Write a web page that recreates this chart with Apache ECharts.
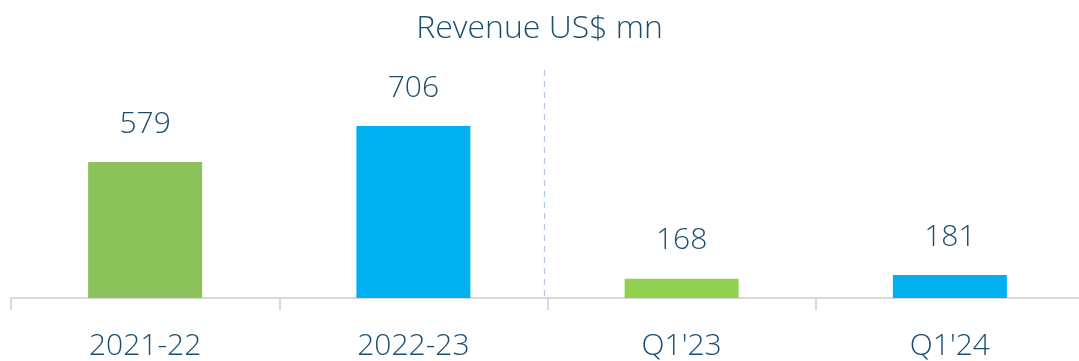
<!DOCTYPE html>
<html>
<head>
<meta charset="utf-8">
<script src="https://cdn.jsdelivr.net/npm/echarts@6/dist/echarts.min.js"></script>
<style>
  html, body { margin: 0; padding: 0; background: #fff; }
  #chart { width: 1079px; height: 361px; }
</style>
</head>
<body>
<div id="chart"></div>
<script>
// Revenue by period (US$ mn): two full years, then two comparable quarters
const categories = ['2021-22', '2022-23', "Q1'23", "Q1'24"];
const revenue = [579, 706, 168, 181];
const barColors = ['#8BC25A', '#00B0F0', '#92D050', '#00B0F0'];

const textColor = '#1B4F72';
const fontFamily = '"Open Sans", Lato, sans-serif';

const chart = echarts.init(document.getElementById('chart'));

chart.setOption({
  animation: false,
  title: {
    text: 'Revenue US$ mn',
    left: 'center',
    top: 8,
    textStyle: { color: textColor, fontFamily, fontSize: 32, fontWeight: 300 }
  },
  grid: { left: 11, right: -5, top: 71, bottom: 63, outerBoundsMode: 'none', containLabel: false },
  xAxis: {
    type: 'category',
    data: categories,
    axisLine: { lineStyle: { color: '#D9D9D9', width: 2 } },
    axisTick: { show: true, length: 12, lineStyle: { color: '#D9D9D9', width: 2 } },
    axisLabel: { color: textColor, fontFamily, fontSize: 30, fontWeight: 300, margin: 33 }
  },
  yAxis: {
    type: 'value',
    min: 100,
    max: 900,
    show: false,
    splitLine: { show: false }
  },
  series: [{
    type: 'bar',
    barWidth: 114,
    data: revenue.map((v, i) => ({ value: v, itemStyle: { color: barColors[i] } })),
    label: {
      show: true,
      position: 'top',
      distance: 23,
      color: textColor,
      fontFamily,
      fontSize: 30,
      fontWeight: 300
    }
  }]
});

// Dashed divider between the annual and quarterly groups
const p1 = chart.convertToPixel({ seriesIndex: 0 }, [1, 900]);
const p2 = chart.convertToPixel({ seriesIndex: 0 }, [2, 100]);
const divX = (p1[0] + p2[0]) / 2 - 3;
chart.setOption({
  graphic: [{
    type: 'line',
    shape: { x1: divX, y1: p1[1] - 1, x2: divX, y2: p2[1] },
    style: { stroke: '#B4C7E7', lineWidth: 1.3, lineDash: [6, 5] },
    silent: true
  }]
});
</script>
</body>
</html>
